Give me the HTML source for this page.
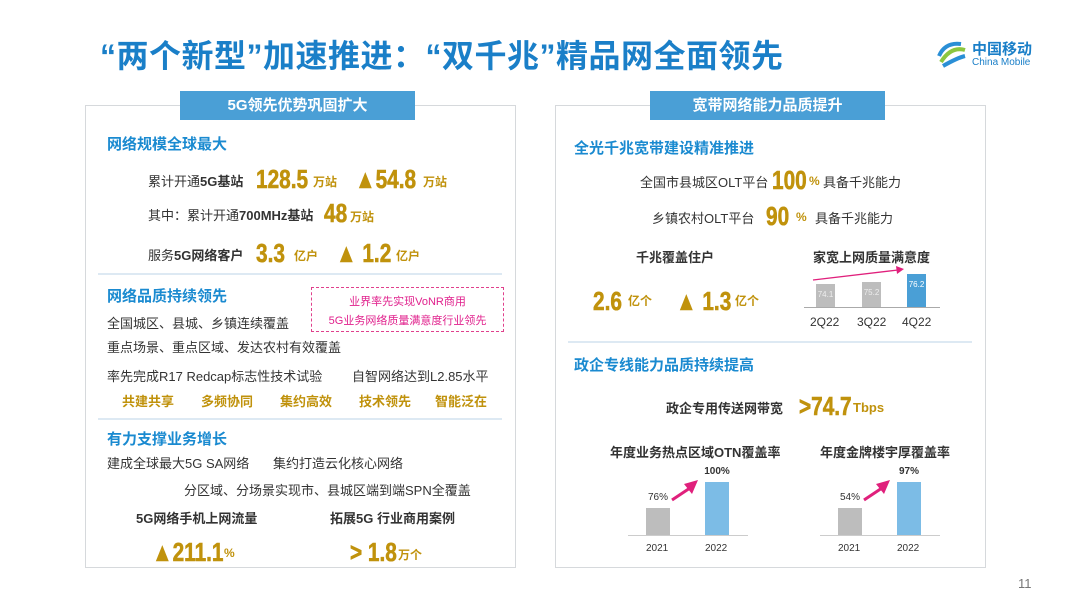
<!DOCTYPE html>
<html><head><meta charset="utf-8"><style>
*{margin:0;padding:0;box-sizing:border-box}
body{width:1080px;height:608px;background:#fff;position:relative;overflow:hidden;font-family:"Liberation Sans","Noto Sans CJK SC",sans-serif;color:#333}
.a{position:absolute;white-space:nowrap}
.t{font-size:32px;font-weight:bold;color:#1a7fc8;left:100px;top:31px;letter-spacing:0.5px}
.panel{position:absolute;border:1.5px solid #d6d9dc;top:105px;height:463px;width:431px}
.tab{position:absolute;background:#4a9fd6;color:#fff;font-weight:bold;font-size:15px;text-align:center;height:29px;line-height:29px;top:91px;width:235px}
.h{font-size:15px;font-weight:bold;color:#1a8ad0}
.n{font-size:13px;color:#333}
.b{font-weight:bold}
.g{color:#c0920c;font-weight:bold}
.big{font-size:26px;font-weight:bold;color:#c0920c;transform:scaleX(0.8);transform-origin:left top;line-height:1;-webkit-text-stroke:0.6px #c0920c}
.u{font-size:12px;color:#c0920c;font-weight:bold}
.sep{position:absolute;height:2px;background:#dde9f3}
.bar{position:absolute}
</style></head><body>
<div class="a t">“两个新型”加速推进：“双千兆”精品网全面领先</div>
<svg class="a" style="left:935px;top:36px" width="34" height="34" viewBox="0 0 34 34"><path d="M4 20 Q10 6 26 8" stroke="#2a8fd6" stroke-width="4" fill="none"/><path d="M6 26 Q16 10 30 14" stroke="#8cc63f" stroke-width="4" fill="none"/><path d="M8 30 Q22 22 30 20" stroke="#2a8fd6" stroke-width="4" fill="none"/></svg>
<div class="a" style="left:972px;top:38px;font-size:15px;color:#1a7fc8;font-weight:bold">中国移动</div>
<div class="a" style="left:972px;top:57px;font-size:10px;color:#1a7fc8">China Mobile</div>

<div class="panel" style="left:85px"></div>
<div class="panel" style="left:555px"></div>
<div class="tab" style="left:180px">5G领先优势巩固扩大</div>
<div class="tab" style="left:650px">宽带网络能力品质提升</div>

<!-- left -->
<div class="a h" style="left:107px;top:133px">网络规模全球最大</div>
<div class="a n" style="left:148px;top:171px">累计开通<b>5G基站</b></div>
<div class="a big" style="left:256px;top:166px">128.5</div><div class="a u" style="left:313px;top:173px">万站</div>
<div class="a big" style="left:355px;top:166px">▲54.8</div><div class="a u" style="left:423px;top:173px">万站</div>
<div class="a n" style="left:148px;top:205px">其中：累计开通<b>700MHz基站</b></div>
<div class="a big" style="left:324px;top:200px">48</div><div class="a u" style="left:350px;top:208px">万站</div>
<div class="a n" style="left:148px;top:245px">服务<b>5G网络客户</b></div>
<div class="a big" style="left:256px;top:240px">3.3</div><div class="a u" style="left:294px;top:247px">亿户</div>
<div class="a big" style="left:336px;top:240px">▲ 1.2</div><div class="a u" style="left:396px;top:247px">亿户</div>
<div class="sep" style="left:98px;top:273px;width:404px"></div>
<div class="a h" style="left:107px;top:285px">网络品质持续领先</div>
<div class="a" style="left:311px;top:287px;width:193px;height:45px;border:1px dashed #e0408c"></div>
<div class="a" style="left:311px;top:293px;width:193px;text-align:center;font-size:11px;color:#e0208c">业界率先实现VoNR商用</div>
<div class="a" style="left:311px;top:312px;width:193px;text-align:center;font-size:11px;color:#e0208c">5G业务网络质量满意度行业领先</div>
<div class="a n" style="left:107px;top:313px">全国城区、县城、乡镇连续覆盖</div>
<div class="a n" style="left:107px;top:337px">重点场景、重点区域、发达农村有效覆盖</div>
<div class="a n" style="left:107px;top:366px">率先完成R17 Redcap标志性技术试验</div>
<div class="a n" style="left:352px;top:366px">自智网络达到L2.85水平</div>
<div class="a g" style="left:122px;top:391px;font-size:13px">共建共享</div>
<div class="a g" style="left:201px;top:391px;font-size:13px">多频协同</div>
<div class="a g" style="left:280px;top:391px;font-size:13px">集约高效</div>
<div class="a g" style="left:359px;top:391px;font-size:13px">技术领先</div>
<div class="a g" style="left:435px;top:391px;font-size:13px">智能泛在</div>
<div class="sep" style="left:98px;top:418px;width:404px"></div>
<div class="a h" style="left:107px;top:428px">有力支撑业务增长</div>
<div class="a n" style="left:107px;top:453px">建成全球最大5G SA网络</div>
<div class="a n" style="left:273px;top:453px">集约打造云化核心网络</div>
<div class="a n" style="left:184px;top:480px">分区域、分场景实现市、县城区端到端SPN全覆盖</div>
<div class="a n b" style="left:136px;top:508px">5G网络手机上网流量</div>
<div class="a n b" style="left:330px;top:508px">拓展5G 行业商用案例</div>
<div class="a big" style="left:152px;top:539px">▲211.1</div><div class="a u" style="left:224px;top:546px">%</div>
<div class="a big" style="left:350px;top:539px">&gt; 1.8</div><div class="a u" style="left:398px;top:546px">万个</div>

<!-- right -->
<div class="a h" style="left:574px;top:137px">全光千兆宽带建设精准推进</div>
<div class="a n" style="left:640px;top:172px">全国市县城区OLT平台</div>
<div class="a big" style="left:772px;top:167px">100</div><div class="a u" style="left:809px;top:174px">%</div>
<div class="a n" style="left:823px;top:172px">具备千兆能力</div>
<div class="a n" style="left:652px;top:208px">乡镇农村OLT平台</div>
<div class="a big" style="left:766px;top:203px">90</div><div class="a u" style="left:796px;top:210px">%</div>
<div class="a n" style="left:815px;top:208px">具备千兆能力</div>
<div class="a n b" style="left:636px;top:247px">千兆覆盖住户</div>
<div class="a n b" style="left:813px;top:247px">家宽上网质量满意度</div>
<div class="a big" style="left:593px;top:288px">2.6</div><div class="a u" style="left:628px;top:292px">亿个</div>
<div class="a big" style="left:676px;top:288px">▲ 1.3</div><div class="a u" style="left:735px;top:292px">亿个</div>
<div class="bar" style="left:816px;top:284px;width:19px;height:23px;background:#bdbdbd"></div>
<div class="bar" style="left:862px;top:282px;width:19px;height:25px;background:#bdbdbd"></div>
<div class="bar" style="left:907px;top:274px;width:19px;height:33px;background:#4a9fd6"></div>
<div class="a" style="left:816px;top:290px;font-size:8px;color:#eee;width:19px;text-align:center">74.1</div>
<div class="a" style="left:862px;top:288px;font-size:8px;color:#eee;width:19px;text-align:center">75.2</div>
<div class="a" style="left:907px;top:280px;font-size:8px;color:#fff;width:19px;text-align:center">76.2</div>
<div class="a" style="left:804px;top:307px;width:136px;height:1px;background:#aaa"></div>
<svg class="a" style="left:810px;top:265px" width="100" height="20"><line x1="3" y1="15" x2="88" y2="5" stroke="#e0207c" stroke-width="1.3"/><polygon points="94,4 86,1 87,9" fill="#e0207c"/></svg>
<div class="a" style="left:810px;top:315px;font-size:12px">2Q22</div>
<div class="a" style="left:857px;top:315px;font-size:12px">3Q22</div>
<div class="a" style="left:902px;top:315px;font-size:12px">4Q22</div>
<div class="sep" style="left:568px;top:341px;width:404px"></div>
<div class="a h" style="left:574px;top:354px">政企专线能力品质持续提高</div>
<div class="a n b" style="left:666px;top:398px">政企专用传送网带宽</div>
<div class="a big" style="left:799px;top:393px">&gt;74.7</div><div class="a u" style="left:853px;top:400px;font-size:13px">Tbps</div>
<div class="a n b" style="left:610px;top:442px">年度业务热点区域OTN覆盖率</div>
<div class="a n b" style="left:820px;top:442px">年度金牌楼宇厚覆盖率</div>
<!-- chart1 -->
<div class="bar" style="left:646px;top:508px;width:24px;height:27px;background:#bdbdbd"></div>
<div class="bar" style="left:705px;top:482px;width:24px;height:53px;background:#7cbce6"></div>
<div class="a" style="left:628px;top:535px;width:120px;height:1px;background:#ccc"></div>
<div class="a" style="left:646px;top:492px;font-size:10px;width:24px;text-align:center">76%</div>
<div class="a b" style="left:700px;top:466px;font-size:10px;width:34px;text-align:center">100%</div>
<div class="a" style="left:646px;top:543px;font-size:10px">2021</div>
<div class="a" style="left:705px;top:543px;font-size:10px">2022</div>
<svg class="a" style="left:670px;top:478px" width="30" height="24"><path d="M2 22 L20 10" stroke="#e0207c" stroke-width="3"/><polygon points="28,2 14,6 22,16" fill="#e0207c"/></svg>
<!-- chart2 -->
<div class="bar" style="left:838px;top:508px;width:24px;height:27px;background:#bdbdbd"></div>
<div class="bar" style="left:897px;top:482px;width:24px;height:53px;background:#7cbce6"></div>
<div class="a" style="left:820px;top:535px;width:120px;height:1px;background:#ccc"></div>
<div class="a" style="left:838px;top:492px;font-size:10px;width:24px;text-align:center">54%</div>
<div class="a b" style="left:892px;top:466px;font-size:10px;width:34px;text-align:center">97%</div>
<div class="a" style="left:838px;top:543px;font-size:10px">2021</div>
<div class="a" style="left:897px;top:543px;font-size:10px">2022</div>
<svg class="a" style="left:862px;top:478px" width="30" height="24"><path d="M2 22 L20 10" stroke="#e0207c" stroke-width="3"/><polygon points="28,2 14,6 22,16" fill="#e0207c"/></svg>

<div class="a" style="left:1018px;top:576px;font-size:13px;color:#777">11</div>
</body></html>
